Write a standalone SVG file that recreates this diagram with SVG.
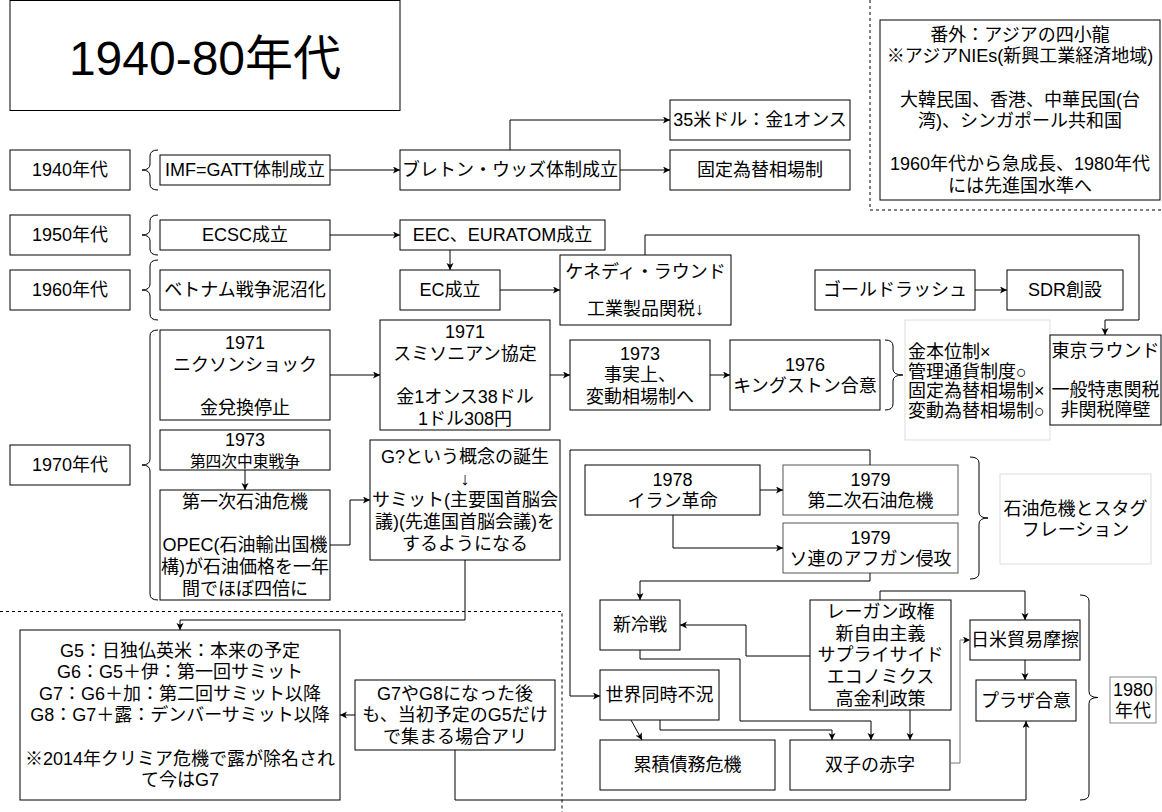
<svg xmlns="http://www.w3.org/2000/svg" width="1162" height="812" viewBox="0 0 1162 812">
<defs>
<marker id="a" markerWidth="8" markerHeight="8" refX="7" refY="3.5" orient="auto" markerUnits="userSpaceOnUse"><path d="M0,0 L7,3.5 L0,7 L1.8,3.5 Z" fill="#000"/></marker>
<style>
.b{fill:#fff;stroke:#000;stroke-width:1}
.g{fill:#fff;stroke:#555;stroke-width:1}
.l{fill:#fff;stroke:#ddd;stroke-width:1}
.m{fill:#fff;stroke:#888;stroke-width:1}
text{font-family:"Liberation Sans","Noto Sans CJK JP",sans-serif;font-size:18px;fill:#000;text-anchor:middle}
.s{font-size:15.75px}
.L{text-anchor:start}
.c{fill:none;stroke:#000;stroke-width:1;marker-end:url(#a)}
.cg{fill:none;stroke:#777;stroke-width:1;marker-end:url(#a)}
.br{fill:none;stroke:#000;stroke-width:1}
.d{fill:none;stroke:#000;stroke-width:1;stroke-dasharray:3 3}
</style>
</defs>
<rect width="1162" height="812" fill="#fff"/>

<g id="frames">
<path class="d" d="M870,0 V210 H1162"/>
<path class="d" d="M0,611.5 H562 V812"/>
</g>

<g id="title"><rect class="b" x="10" y="0.5" width="390" height="110"/><text x="205" y="75" style="font-size:48px">1940-80年代</text></g>

<g id="nies"><rect class="b" x="880" y="20" width="280" height="180"/>
<text><tspan x="1020" y="40.7">番外：アジアの四小龍</tspan><tspan x="1020" y="62.3">※アジアNIEs(新興工業経済地域)</tspan><tspan x="1020" y="105.5">大韓民国、香港、中華民国(台</tspan><tspan x="1020" y="127.1">湾)、シンガポール共和国</tspan><tspan x="1020" y="170.3">1960年代から急成長、1980年代</tspan><tspan x="1020" y="191.9">には先進国水準へ</tspan></text></g>

<g id="y1940"><rect class="b" x="10" y="150" width="120" height="40"/><text x="70" y="176.3">1940年代</text></g>
<g id="y1950"><rect class="b" x="10" y="215" width="120" height="40"/><text x="70" y="241.3">1950年代</text></g>
<g id="y1960"><rect class="b" x="10" y="270" width="120" height="40"/><text x="70" y="296.3">1960年代</text></g>
<g id="y1970"><rect class="b" x="10" y="445" width="120" height="40"/><text x="70" y="471.3">1970年代</text></g>

<g id="braces">
<path class="br" d="M158,150 Q150,150 150,156 V164 Q150,170 142,170 Q150,170 150,176 V184 Q150,190 158,190"/>
<path class="br" d="M158,215 Q150,215 150,221 V229 Q150,235 142,235 Q150,235 150,241 V249 Q150,255 158,255"/>
<path class="br" d="M158,260 Q150,260 150,266 V284 Q150,290 142,290 Q150,290 150,296 V314 Q150,320 158,320"/>
<path class="br" d="M158,330 Q150,330 150,336 V459 Q150,465 142,465 Q150,465 150,471 V594 Q150,600 158,600"/>
<path class="br" d="M885,340 Q893,340 893,346 V369 Q893,375 903,375 Q893,375 893,381 V404 Q893,410 885,410"/>
<path class="br" d="M970,457 Q979,457 979,463 V512 Q979,518 988,518 Q979,518 979,524 V573 Q979,579 970,579"/>
<path class="br" d="M1080,595 Q1089,595 1089,601 V691.5 Q1089,697.5 1098,697.5 Q1089,697.5 1089,703.5 V794 Q1089,800 1080,800"/>
</g>

<g id="imf"><rect class="b" x="160" y="155" width="170" height="30"/><text x="245" y="176.3">IMF=GATT体制成立</text></g>
<g id="bretton"><rect class="b" x="400" y="150" width="220" height="40"/><text x="510" y="176.3">ブレトン・ウッズ体制成立</text></g>
<g id="usd35"><rect class="b" x="670" y="100" width="180" height="40"/><text x="760" y="126.3">35米ドル：金1オンス</text></g>
<g id="fixed"><rect class="b" x="670" y="150" width="180" height="40"/><text x="760" y="176.3">固定為替相場制</text></g>

<g id="ecsc"><rect class="b" x="160" y="220" width="170" height="30"/><text x="245" y="241.3">ECSC成立</text></g>
<g id="eec"><rect class="b" x="400" y="220" width="205" height="30"/><text x="502.5" y="241.3">EEC、EURATOM成立</text></g>
<g id="ec"><rect class="b" x="400" y="270" width="100" height="40"/><text x="450" y="296.3">EC成立</text></g>
<g id="vietnam"><rect class="b" x="160" y="270" width="170" height="40"/><text x="245" y="296.3">ベトナム戦争泥沼化</text></g>
<g id="kennedy"><rect class="b" x="560" y="255" width="171" height="70"/><text><tspan x="645.5" y="278.3">ケネディ・ラウンド</tspan><tspan x="645.5" y="315.3">工業製品関税↓</tspan></text></g>
<g id="gold"><rect class="b" x="815" y="270" width="160" height="40"/><text x="895" y="296.3">ゴールドラッシュ</text></g>
<g id="sdr"><rect class="b" x="1007" y="270" width="116" height="40"/><text x="1065" y="296.3">SDR創設</text></g>

<g id="nixon"><rect class="b" x="160" y="330" width="170" height="90"/><text><tspan x="245" y="348.9">1971</tspan><tspan x="245" y="370.5">ニクソンショック</tspan><tspan x="245" y="413.7">金兌換停止</tspan></text></g>
<g id="smithsonian"><rect class="b" x="380" y="320" width="170" height="110"/><text><tspan x="465" y="338.1">1971</tspan><tspan x="465" y="359.7">スミソニアン協定</tspan><tspan x="465" y="402.9">金1オンス38ドル</tspan><tspan x="465" y="424.5">1ドル308円</tspan></text></g>
<g id="float1973"><rect class="b" x="570" y="340" width="140" height="70"/><text><tspan x="640" y="359.7">1973</tspan><tspan x="640" y="381.3">事実上、</tspan><tspan x="640" y="402.9">変動相場制へ</tspan></text></g>
<g id="kingston"><rect class="b" x="730" y="340" width="150" height="70"/><text><tspan x="805" y="370.5">1976</tspan><tspan x="805" y="392.1">キングストン合意</tspan></text></g>
<g id="gold-std"><rect class="l" x="905" y="320" width="145" height="120"/><text class="L"><tspan x="908" y="358.3">金本位制×</tspan><tspan x="908" y="377.8">管理通貨制度○</tspan><tspan x="908" y="397.3">固定為替相場制×</tspan><tspan x="908" y="416.8">変動為替相場制○</tspan></text></g>
<g id="tokyo"><rect class="b" x="1050" y="335" width="111" height="90"/><text><tspan x="1105.5" y="357.3">東京ラウンド</tspan><tspan x="1105.5" y="396.3">一般特恵関税</tspan><tspan x="1105.5" y="415.8">非関税障壁</tspan></text></g>

<g id="war1973"><rect class="b" x="160" y="430" width="170" height="40"/><text><tspan x="245" y="446.3">1973</tspan><tspan class="s" x="245" y="467.2">第四次中東戦争</tspan></text></g>
<g id="oil1"><rect class="b" x="160" y="490" width="170" height="110"/><text><tspan x="245" y="508.1">第一次石油危機</tspan><tspan x="245" y="551.3">OPEC(石油輸出国機</tspan><tspan x="245" y="572.9">構)が石油価格を一年</tspan><tspan x="245" y="594.5">間でほぼ四倍に</tspan></text></g>
<g id="gconcept"><rect class="b" x="370" y="440" width="190" height="120"/><text><tspan x="465" y="463.1">G?という概念の誕生</tspan><tspan x="465" y="484.7">↓</tspan><tspan x="465" y="506.3">サミット(主要国首脳会</tspan><tspan x="465" y="527.9">議)(先進国首脳会議)を</tspan><tspan x="465" y="549.5">するようになる</tspan></text></g>

<g id="iran"><rect class="b" x="585" y="465" width="175" height="50"/><text><tspan x="672.5" y="485.5">1978</tspan><tspan x="672.5" y="507.1">イラン革命</tspan></text></g>
<g id="oil2"><rect class="g" x="783" y="465" width="175" height="50"/><text><tspan x="870.5" y="485.5">1979</tspan><tspan x="870.5" y="507.1">第二次石油危機</tspan></text></g>
<g id="afghan"><rect class="g" x="783" y="523" width="175" height="50"/><text><tspan x="870.5" y="543.5">1979</tspan><tspan x="870.5" y="565.1">ソ連のアフガン侵攻</tspan></text></g>
<g id="stagflation"><rect class="l" x="1000" y="474" width="151" height="90"/><text><tspan x="1075.5" y="514.5">石油危機とスタグ</tspan><tspan x="1075.5" y="536.1">フレーション</tspan></text></g>

<g id="newcold"><rect class="b" x="600" y="600" width="80" height="50"/><text x="640" y="631.3">新冷戦</text></g>
<g id="recession"><rect class="b" x="600" y="670" width="119" height="50"/><text x="659.5" y="701.3">世界同時不況</text></g>
<g id="reagan"><rect class="b" x="810" y="600" width="141" height="110"/><text><tspan x="880.5" y="618.1">レーガン政権</tspan><tspan x="880.5" y="639.7">新自由主義</tspan><tspan x="880.5" y="661.3">サプライサイド</tspan><tspan x="880.5" y="682.9">エコノミクス</tspan><tspan x="880.5" y="704.5">高金利政策</tspan></text></g>
<g id="friction"><rect class="b" x="970" y="620" width="110" height="40"/><text x="1025" y="646.3">日米貿易摩擦</text></g>
<g id="plaza"><rect class="b" x="976" y="680" width="100" height="41"/><text x="1026" y="706.8">プラザ合意</text></g>
<g id="debt"><rect class="b" x="600" y="740" width="175" height="50"/><text x="687.5" y="771.3">累積債務危機</text></g>
<g id="twin"><rect class="b" x="790" y="740" width="160" height="50"/><text x="870" y="771.3">双子の赤字</text></g>
<g id="y1980"><rect class="m" x="1110" y="677" width="46" height="46"/><text><tspan x="1133" y="695.5">1980</tspan><tspan x="1133" y="717.1">年代</tspan></text></g>

<g id="g5"><rect class="b" x="20" y="630" width="320" height="170"/><text><tspan x="180" y="656.5">G5：日独仏英米：本来の予定</tspan><tspan x="180" y="678.1">G6：G5＋伊：第一回サミット</tspan><tspan x="180" y="699.7">G7：G6＋加：第二回サミット以降</tspan><tspan x="180" y="721.3">G8：G7＋露：デンバーサミット以降</tspan><tspan x="180" y="764.5">※2014年クリミア危機で露が除名され</tspan><tspan x="180" y="786.1">て今はG7</tspan></text></g>
<g id="g7g8"><rect class="b" x="355" y="680" width="200" height="70"/><text><tspan x="455" y="699.7">G7やG8になった後</tspan><tspan x="455" y="721.3">も、当初予定のG5だけ</tspan><tspan x="455" y="742.9">で集まる場合アリ</tspan></text></g>

<g id="connectors">
<path class="c" d="M330,170 H400"/>
<path class="c" d="M510,150 V120 H670"/>
<path class="c" d="M620,170 H670"/>
<path class="c" d="M330,235 H400"/>
<path class="c" d="M450,250 V270"/>
<path class="c" d="M500,290 H560"/>
<path class="c" d="M645,255 V235 H1139 V320 H1105 V335"/>
<path class="c" d="M975,290 H1007"/>
<path class="c" d="M330,375 H380"/>
<path class="c" d="M550,375 H570"/>
<path class="c" d="M710,375 H730"/>
<path class="c" d="M245,470 V490"/>
<path class="c" d="M330,545 H350 V500 H370"/>
<path class="c" d="M465,560 V620 H180 V630"/>
<path class="c" d="M355,715 H340"/>
<path class="c" d="M455,750 V800 H1026 V721"/>
<path class="c" d="M760,490 H783"/>
<path class="c" d="M673,515 V548 H783"/>
<path class="c" d="M870,465 V450 H570 V696 H600"/>
<path class="c" d="M870,573 V581 H640 V600"/>
<path class="c" d="M810,656 H746 V625 H680"/>
<path class="c" d="M640,650 V659 H740 V721 H871 V740"/>
<path class="c" d="M660,720 V730 H832 V740"/>
<path class="c" d="M910,710 V740"/>
<path class="c" d="M631,720 L642,740"/>
<path class="cg" d="M950,763 H960 V640 H970"/>
<path class="c" d="M880,600 V591 H1025 V620"/>
<path class="c" d="M1025,660 V680"/>
</g>
</svg>
